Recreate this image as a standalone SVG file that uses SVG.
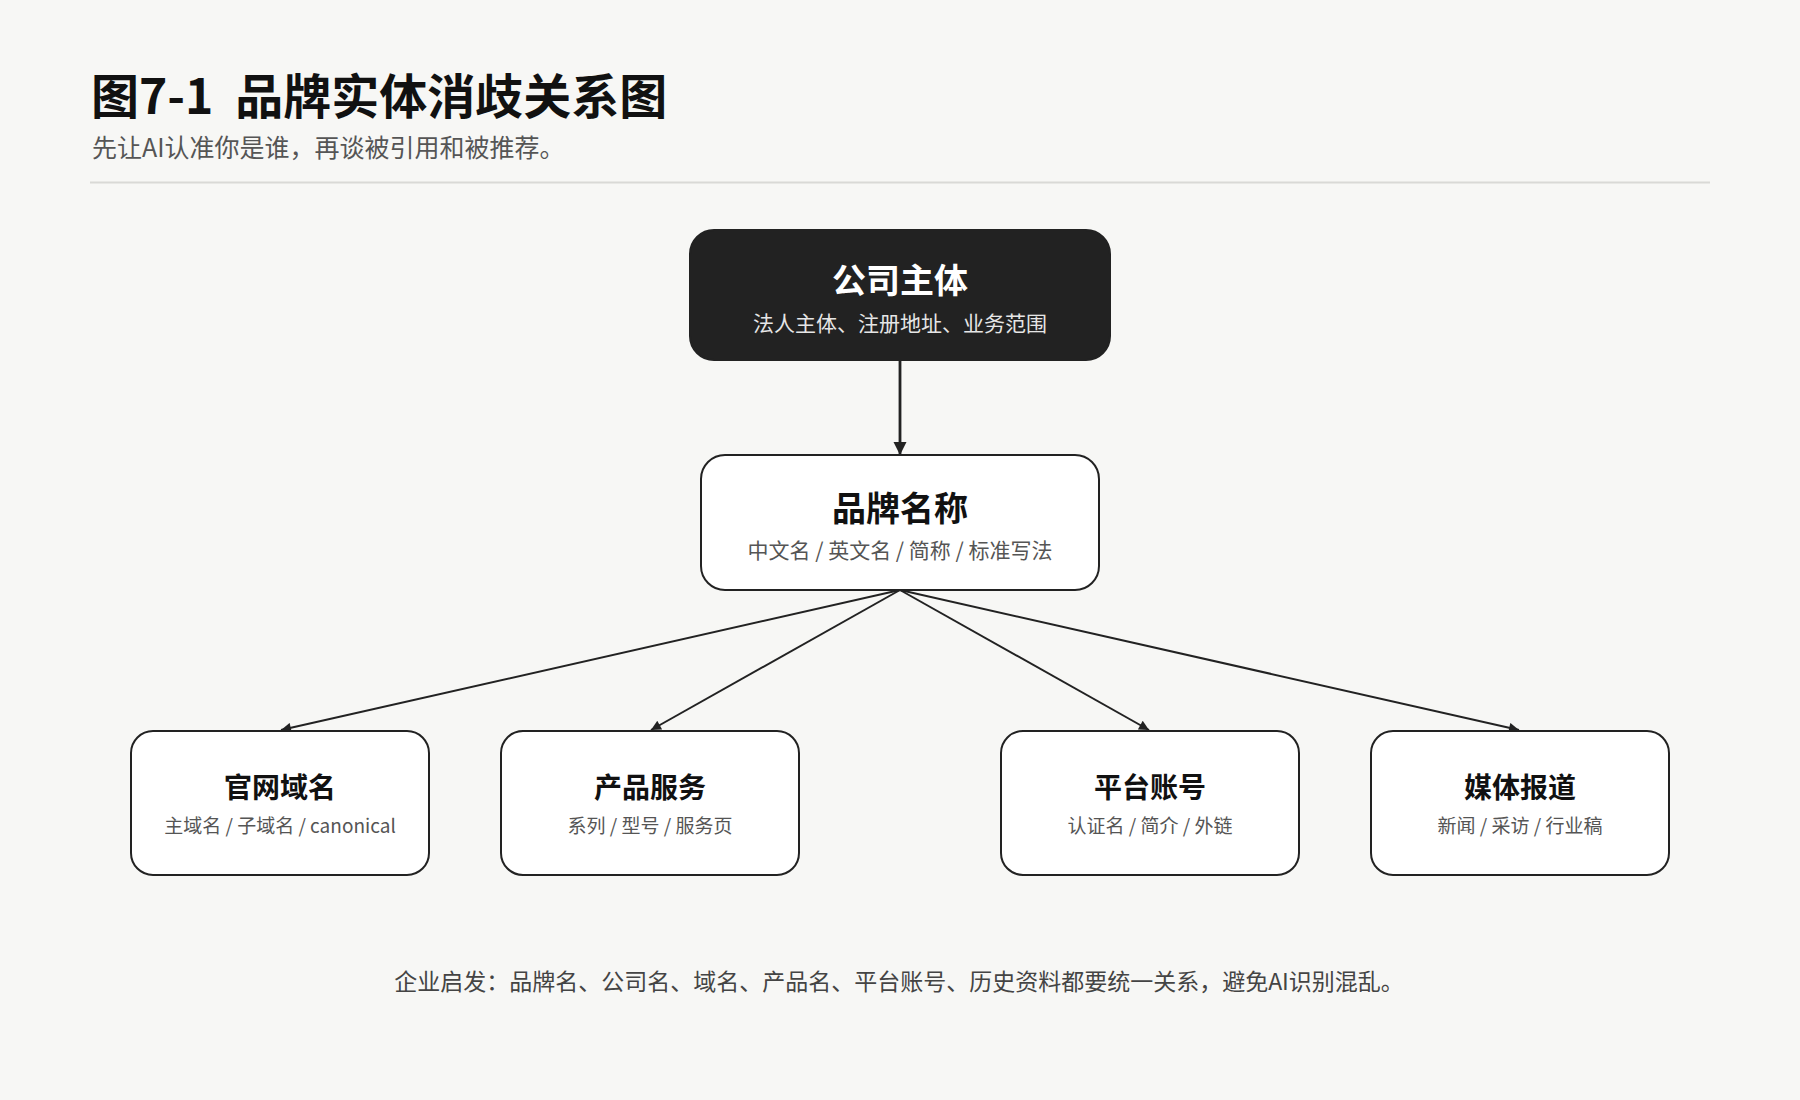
<svg xmlns="http://www.w3.org/2000/svg" width="1800" height="1100" viewBox="0 0 1800 1100">
  <defs>
    <marker id="arrow" viewBox="0 0 10 10" refX="10" refY="5" markerWidth="11" markerHeight="10" markerUnits="userSpaceOnUse" orient="auto">
      <path d="M0,0 L10,5 L0,10 Z" fill="#222"/>
    </marker>
    <marker id="arrow-lg" viewBox="0 0 10 10" refX="10" refY="5" markerWidth="13" markerHeight="14" markerUnits="userSpaceOnUse" orient="auto">
      <path d="M0,0 L10,5 L0,10 Z" fill="#222"/>
    </marker>
    <style>
      text { font-family: "Noto Sans CJK SC", "Noto Sans", sans-serif; }
      .title { font-size: 48px; font-weight: 700; fill: #111; }
      .subtitle { font-size: 25px; fill: #555; }
      .node { fill: #fff; stroke: #222; stroke-width: 2; }
      .node-dark { fill: #222; stroke: #222; stroke-width: 2; }
      .ntitle { font-size: 34px; font-weight: 700; fill: #111; text-anchor: middle; }
      .ntitle-dark { font-size: 34px; font-weight: 700; fill: #fff; text-anchor: middle; }
      .nsub { font-size: 21px; fill: #555; text-anchor: middle; }
      .nsub-dark { font-size: 21px; fill: #e6e6e6; text-anchor: middle; }
      .stitle { font-size: 28px; font-weight: 700; fill: #111; text-anchor: middle; }
      .ssub { font-size: 19px; fill: #555; text-anchor: middle; }
      .edge { stroke: #222; stroke-width: 2; fill: none; marker-end: url(#arrow); }
      .edge-main { stroke: #222; stroke-width: 2.8; fill: none; marker-end: url(#arrow-lg); }
      .footer { font-size: 23px; fill: #444; text-anchor: middle; }
    </style>
  </defs>
  <rect x="0" y="0" width="1800" height="1100" fill="#f7f7f5"/>

  <g id="header">
    <text class="title" x="91" y="114" xml:space="preserve">图7-1&#160; 品牌实体消歧关系图</text>
    <text class="subtitle" x="92" y="157">先让AI认准你是谁，再谈被引用和被推荐。</text>
    <line x1="90" y1="182.5" x2="1710" y2="182.5" stroke="#d9d9d6" stroke-width="2"/>
  </g>

  <g id="connectors">
    <line class="edge-main" x1="900" y1="361" x2="900" y2="455"/>
    <line class="edge" x1="900" y1="590" x2="281" y2="730"/>
    <line class="edge" x1="900" y1="590" x2="651" y2="730"/>
    <line class="edge" x1="900" y1="590" x2="1149" y2="730"/>
    <line class="edge" x1="900" y1="590" x2="1519" y2="730"/>
  </g>

  <g id="company">
    <rect class="node-dark" x="690" y="230" width="420" height="130" rx="24"/>
    <text class="ntitle-dark" x="900" y="293">公司主体</text>
    <text class="nsub-dark" x="900" y="331">法人主体、注册地址、业务范围</text>
  </g>

  <g id="brand">
    <rect class="node" x="701" y="455" width="398" height="135" rx="24"/>
    <text class="ntitle" x="900" y="521">品牌名称</text>
    <text class="nsub" x="900" y="558">中文名 / 英文名 / 简称 / 标准写法</text>
  </g>

  <g id="domain">
    <rect class="node" x="131" y="731" width="298" height="144" rx="22"/>
    <text class="stitle" x="280" y="798">官网域名</text>
    <text class="ssub" x="280" y="833">主域名 / 子域名 / canonical</text>
  </g>

  <g id="product">
    <rect class="node" x="501" y="731" width="298" height="144" rx="22"/>
    <text class="stitle" x="650" y="798">产品服务</text>
    <text class="ssub" x="650" y="833">系列 / 型号 / 服务页</text>
  </g>

  <g id="platform">
    <rect class="node" x="1001" y="731" width="298" height="144" rx="22"/>
    <text class="stitle" x="1150" y="798">平台账号</text>
    <text class="ssub" x="1150" y="833">认证名 / 简介 / 外链</text>
  </g>

  <g id="media">
    <rect class="node" x="1371" y="731" width="298" height="144" rx="22"/>
    <text class="stitle" x="1520" y="798">媒体报道</text>
    <text class="ssub" x="1520" y="833">新闻 / 采访 / 行业稿</text>
  </g>

  <g id="footer">
    <text class="footer" x="899" y="990">企业启发：品牌名、公司名、域名、产品名、平台账号、历史资料都要统一关系，避免AI识别混乱。</text>
  </g>
</svg>
